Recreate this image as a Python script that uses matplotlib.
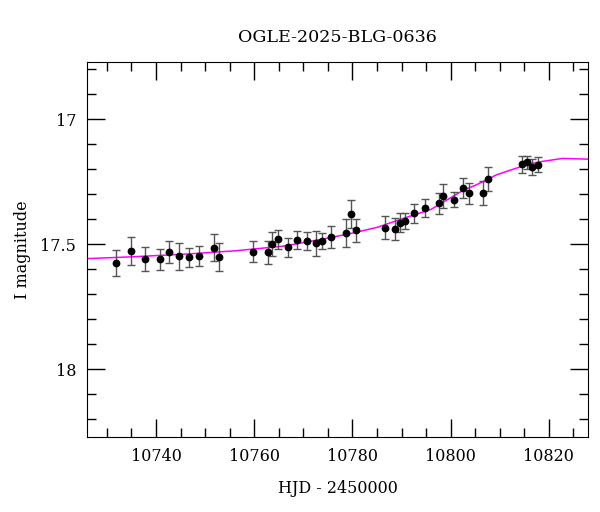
import matplotlib
matplotlib.use('Agg')
import matplotlib.pyplot as plt
from matplotlib.ticker import MultipleLocator

# photometry
hjd = [10731.8, 10734.8, 10737.8, 10740.75, 10742.7, 10744.7, 10746.8, 10748.7,
       10751.7, 10752.8, 10759.7, 10762.7, 10763.6, 10764.8, 10766.9, 10768.8,
       10770.7, 10772.6, 10773.8, 10775.7, 10778.6, 10779.6, 10780.8, 10786.7,
       10788.6, 10789.6, 10790.7, 10792.6, 10794.8, 10797.6, 10798.5, 10800.7,
       10802.5, 10803.8, 10806.5, 10807.5, 10814.5, 10815.5, 10816.5, 10817.7]
mag = [17.576, 17.527, 17.559, 17.560, 17.531, 17.548, 17.551, 17.547,
       17.513, 17.550, 17.529, 17.532, 17.500, 17.480, 17.512, 17.482,
       17.487, 17.496, 17.487, 17.470, 17.454, 17.378, 17.443, 17.434,
       17.440, 17.413, 17.408, 17.376, 17.355, 17.336, 17.307, 17.321,
       17.276, 17.296, 17.296, 17.239, 17.180, 17.172, 17.190, 17.181]
err = [0.052, 0.055, 0.049, 0.043, 0.045, 0.053, 0.038, 0.041,
       0.053, 0.055, 0.042, 0.047, 0.048, 0.037, 0.037, 0.036,
       0.035, 0.049, 0.032, 0.045, 0.055, 0.055, 0.046, 0.046,
       0.044, 0.037, 0.032, 0.038, 0.036, 0.043, 0.049, 0.031,
       0.040, 0.042, 0.048, 0.047, 0.035, 0.027, 0.032, 0.029]

# model curve
model_t = [10726, 10735, 10746, 10756, 10766, 10775, 10780, 10785, 10791, 10796,
           10798.4, 10802.5, 10805.2, 10809.3, 10812, 10816, 10818.7, 10822.8, 10828]
model_m = [17.557, 17.550, 17.539, 17.526, 17.507, 17.475, 17.455, 17.432, 17.392, 17.360,
           17.332, 17.284, 17.262, 17.222, 17.204, 17.178, 17.168, 17.156, 17.159]

plt.rcParams['font.family'] = 'DejaVu Serif'
plt.rcParams['font.size'] = 11.5

fig = plt.figure(figsize=(6, 5.12), dpi=100)
ax = fig.add_axes([0.1455, 0.147, 0.834, 0.731])

ax.plot(model_t, model_m, '-', color='#ff00ff', linewidth=1.1, zorder=1)
ax.errorbar(hjd, mag, yerr=err, fmt='o', color='black', markersize=4.6,
            ecolor='#555555', elinewidth=1.0, capsize=3, capthick=1.0, zorder=2)

ax.set_xlim(10726, 10827.9)
ax.set_ylim(18.27, 16.772)

ax.xaxis.set_major_locator(MultipleLocator(20))
ax.xaxis.set_minor_locator(MultipleLocator(5))
ax.yaxis.set_major_locator(MultipleLocator(0.5))
ax.yaxis.set_minor_locator(MultipleLocator(0.1))
ax.yaxis.set_major_formatter(plt.FuncFormatter(lambda v, p: '%g' % v))

ax.tick_params(which='both', direction='in', top=True, right=True, width=1.0)
ax.tick_params(which='major', length=13, pad=8)
ax.tick_params(which='minor', length=6.5)

ax.set_title('OGLE-2025-BLG-0636', pad=15, fontsize=12.6)
ax.set_xlabel('HJD - 2450000', labelpad=11)
ax.set_ylabel('I magnitude', labelpad=7)

plt.savefig('out.png', dpi=100)
